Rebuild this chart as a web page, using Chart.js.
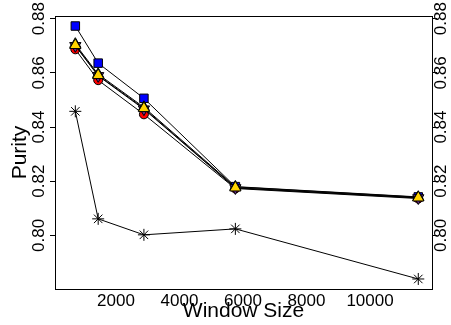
<!DOCTYPE html>
<html>
<head>
<meta charset="utf-8">
<script src="https://cdn.jsdelivr.net/npm/chart.js@4"></script>
<style>
  html, body { margin: 0; padding: 0; background: #fff; }
  canvas { display: block; }
</style>
</head>
<body>
<canvas id="myChart" width="451" height="325"></canvas>
<script>
const windowSizes = [720, 1440, 2880, 5760, 11520];
const blueSeries = [0.8773, 0.8636, 0.8506, 0.8180, 0.8142];
const redSeries = [0.8687, 0.8573, 0.8447, 0.8173, 0.8136];
const greenSeries = [0.8706, 0.8595, 0.8473, 0.8179, 0.8141];
const purpleSeries = [0.8700, 0.8589, 0.8466, 0.8175, 0.8138];
const yellowSeries = [0.8702, 0.8591, 0.8469, 0.8176, 0.8139];
const starSeries = [0.8458, 0.8061, 0.8002, 0.8024, 0.7839];
const xTicks = [2000, 4000, 6000, 8000, 10000];
const yTicks = [0.80, 0.82, 0.84, 0.86, 0.88];

function toPoints(values) {
    return values.map((v, i) => ({ x: windowSizes[i], y: v }));
}

function series(values, style, fill, radius, rotation) {
    return {
        data: toPoints(values),
        showLine: true,
        borderColor: '#000',
        borderWidth: 1,
        pointStyle: style,
        pointRadius: radius,
        pointRotation: rotation || 0,
        pointBackgroundColor: fill,
        pointBorderColor: '#000',
        pointBorderWidth: 1
    };
}

Chart.defaults.font.family = "'Liberation Sans', Arial, sans-serif";
Chart.defaults.color = '#000';

const tickFont = { size: 17 };
const setTicks = list => scale => { scale.ticks = list.map(v => ({ value: v })); };

const ctx = document.getElementById('myChart').getContext('2d');
new Chart(ctx, {
    type: 'scatter',
    data: {
        datasets: [
            series(yellowSeries, 'triangle', '#ffd200', 6.5),
            series(greenSeries, 'triangle', '#228b22', 6.5),
            series(purpleSeries, 'triangle', '#6a2c91', 6.5, 180),
            series(redSeries, 'circle', '#ff0000', 4.5),
            series(blueSeries, 'rect', '#0000ff', 6),
            series(starSeries, 'star', '#000', 6)
        ]
    },
    options: {
        responsive: false,
        animation: false,
        layout: { padding: 0 },
        plugins: { legend: { display: false }, tooltip: { enabled: false } },
        scales: {
            x: {
                type: 'linear',
                position: 'bottom',
                min: 80,
                max: 11952,
                afterBuildTicks: setTicks(xTicks),
                afterFit: s => { s.height = 36; },
                ticks: { font: tickFont, padding: 2, maxRotation: 0, autoSkip: false, callback: v => String(v) },
                grid: { drawOnChartArea: false, drawTicks: false },
                border: { color: '#000', width: 1 },
                title: { display: true, text: 'Window Size', font: { size: 21 }, padding: { top: 0, bottom: 1 } }
            },
            xTop: {
                type: 'linear',
                position: 'top',
                min: 80,
                max: 11952,
                afterFit: s => { s.height = 16; },
                ticks: { display: false },
                grid: { drawOnChartArea: false, drawTicks: false },
                border: { color: '#000', width: 1 }
            },
            y: {
                type: 'linear',
                position: 'left',
                min: 0.7802,
                max: 0.8810,
                afterBuildTicks: setTicks(yTicks),
                afterFit: s => { s.width = 55; },
                ticks: { font: tickFont, minRotation: 90, maxRotation: 90, crossAlign: 'center', padding: -5.5, callback: v => v.toFixed(2) },
                grid: { drawOnChartArea: false, drawTicks: true, tickLength: 5, tickColor: '#000' },
                border: { color: '#000', width: 1 },
                title: { display: true, text: 'Purity', font: { size: 21 }, padding: { top: 8, bottom: 0 } }
            },
            yRight: {
                type: 'linear',
                position: 'right',
                min: 0.7802,
                max: 0.8810,
                afterBuildTicks: setTicks(yTicks),
                afterFit: s => { s.width = 19; },
                ticks: { font: tickFont, minRotation: 90, maxRotation: 90, crossAlign: 'center', padding: -12.5, callback: v => v.toFixed(2) },
                grid: { drawOnChartArea: false, drawTicks: true, tickLength: 5, tickColor: '#000' },
                border: { color: '#000', width: 1 }
            }
        }
    }
});
</script>
</body>
</html>
